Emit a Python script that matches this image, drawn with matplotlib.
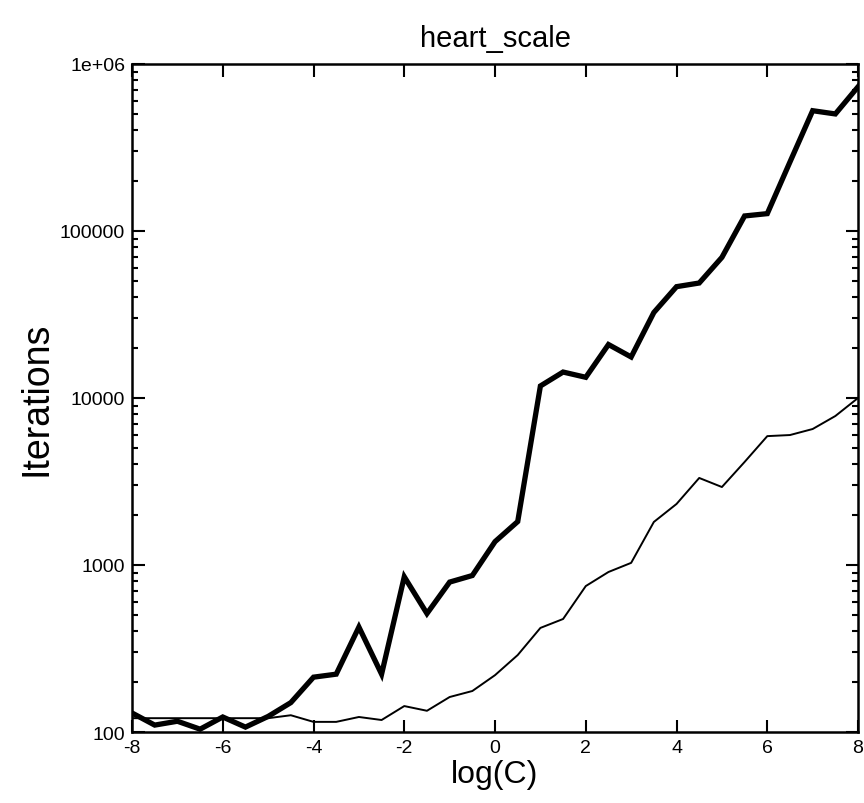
import numpy as np
import matplotlib.pyplot as plt

plt.rcParams['font.family'] = ['Liberation Sans', 'DejaVu Sans']

log_c = np.arange(-8, 8.5, 0.5)

iter_thick = [130, 110, 116, 104, 123, 107, 124, 150, 213, 222, 425, 222,
              850, 512, 790, 865, 1380, 1820, 11800, 14300, 13300, 20900,
              17600, 32500, 46400, 48800, 69500, 123000, 127000, 259000,
              525000, 502000, 730000]

iter_thin = [121, 121, 121, 121, 121, 121, 121, 126, 115, 115, 123, 118,
             143, 134, 162, 176, 219, 289, 420, 475, 748, 908, 1030, 1810,
             2320, 3320, 2930, 4140, 5910, 6000, 6520, 7800, 10000]

x_ticks = [-8, -6, -4, -2, 0, 2, 4, 6, 8]
y_ticks = [100, 1000, 10000, 100000, 1000000]
y_labels = ['100', '1000', '10000', '100000', '1e+06']

fig = plt.figure(figsize=(8.64, 8.04), dpi=100)
ax = fig.add_axes([0.1528, 0.0883, 0.8403, 0.8309])

ax.plot(log_c, iter_thick, color='black', lw=3.8, solid_joinstyle='miter')
ax.plot(log_c, iter_thin, color='black', lw=1.4)

ax.set_yscale('log')
ax.set_xlim(-8, 8)
ax.set_ylim(100, 1e6)
ax.set_xticks(x_ticks)
ax.set_xticklabels([str(t) for t in x_ticks])
ax.set_yticks(y_ticks)
ax.set_yticklabels(y_labels)

for s in ax.spines.values():
    s.set_linewidth(1.8)

ax.tick_params(which='both', direction='in', top=True, right=True,
               labelsize=14, width=1.5)
ax.tick_params(which='major', length=9, pad=5)
ax.tick_params(which='minor', length=4.5)
ax.tick_params(axis='x', which='minor', bottom=False, top=False)

ax.set_title('heart_scale', fontsize=21, pad=13)
ax.set_xlabel('log(C)', fontsize=23, labelpad=2)
ax.set_ylabel('Iterations', fontsize=27, labelpad=4)

fig.savefig('out.png', dpi=100)
